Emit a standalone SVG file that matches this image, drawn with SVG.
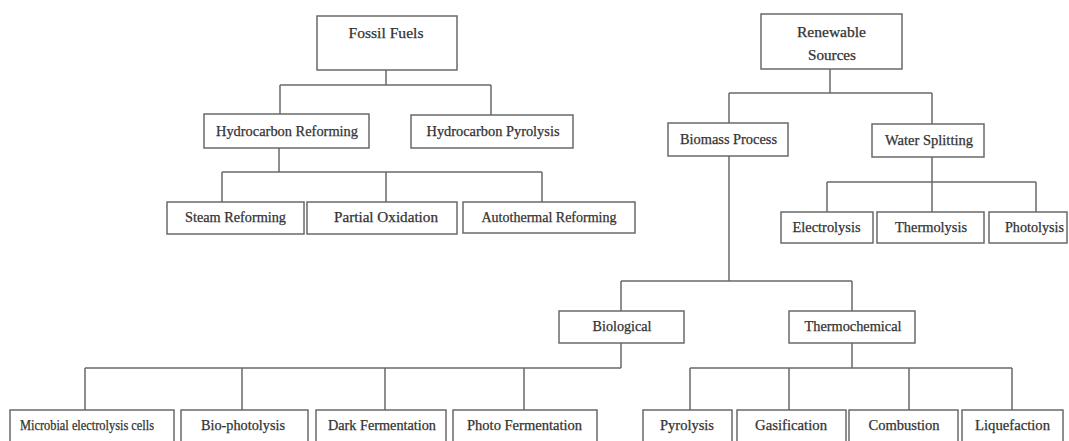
<svg xmlns="http://www.w3.org/2000/svg" width="1069" height="441" viewBox="0 0 1069 441">
<style>
rect{fill:#fff;stroke:#6a6a6a;stroke-width:1.5}
text{font-family:"Liberation Serif","Times New Roman",serif;font-size:14px;fill:#333;stroke:#333;stroke-width:0.25;text-anchor:middle}
.c path{fill:none;stroke:#6a6a6a;stroke-width:1.5}
</style>
<rect x="0" y="0" width="1069" height="441" style="stroke:none"/>
<g class="c" id="connectors">
<path d="M386 70V85M280 85H491M280 85V114M491 85V115"/>
<path d="M279 148V172M222 172H542M222 172V202M386 172V202M542 172V202"/>
<path d="M830 69V93M729 93H932M729 93V123M932 93V124"/>
<path d="M932 157V182M827 182H1036M827 182V212M932 182V212M1036 182V212"/>
<path d="M729 156V281M621 281H852M621 281V311M852 281V311"/>
<path d="M621 343V368M85 368H621M85 368V410M242 368V410M385 368V410M524 368V410"/>
<path d="M852 343V368M690 368H1012M690 368V410M789 368V410M909 368V410M1012 368V410"/>
</g>
<g id="fossil"><rect x="317" y="16" width="140" height="54"/><text x="386" y="38" textLength="75" lengthAdjust="spacingAndGlyphs" style="font-size:15px">Fossil Fuels</text></g>
<g id="renewable"><rect x="761" y="14" width="141" height="55"/><text x="831.5" y="37" textLength="69" lengthAdjust="spacingAndGlyphs">Renewable</text><text x="832" y="60" textLength="48" lengthAdjust="spacingAndGlyphs">Sources</text></g>
<g id="hreform"><rect x="204" y="114" width="165" height="34"/><text x="287" y="136" textLength="142" lengthAdjust="spacingAndGlyphs">Hydrocarbon Reforming</text></g>
<g id="hpyro"><rect x="411" y="115" width="162" height="33"/><text x="493" y="136" textLength="133" lengthAdjust="spacingAndGlyphs">Hydrocarbon Pyrolysis</text></g>
<g id="steam"><rect x="167" y="202" width="137" height="32"/><text x="235.5" y="222" textLength="101" lengthAdjust="spacingAndGlyphs">Steam Reforming</text></g>
<g id="partial"><rect x="307" y="202" width="150" height="32"/><text x="386" y="222" textLength="104" lengthAdjust="spacingAndGlyphs">Partial Oxidation</text></g>
<g id="autothermal"><rect x="463" y="202" width="172" height="31"/><text x="549" y="222" textLength="135" lengthAdjust="spacingAndGlyphs">Autothermal Reforming</text></g>
<g id="biomass"><rect x="668" y="123" width="120" height="33"/><text x="728.5" y="144" textLength="97" lengthAdjust="spacingAndGlyphs">Biomass Process</text></g>
<g id="water"><rect x="872" y="124" width="112" height="33"/><text x="929" y="145" textLength="88" lengthAdjust="spacingAndGlyphs">Water Splitting</text></g>
<g id="electrolysis"><rect x="781" y="212" width="92" height="31"/><text x="826.5" y="232" textLength="68" lengthAdjust="spacingAndGlyphs">Electrolysis</text></g>
<g id="thermolysis"><rect x="877" y="212" width="107" height="31"/><text x="931" y="232" textLength="72" lengthAdjust="spacingAndGlyphs">Thermolysis</text></g>
<g id="photolysis"><rect x="989" y="212" width="78" height="31"/><text x="1034.5" y="232" textLength="59" lengthAdjust="spacingAndGlyphs">Photolysis</text></g>
<g id="biological"><rect x="559" y="311" width="125" height="32"/><text x="622" y="331" textLength="59" lengthAdjust="spacingAndGlyphs">Biological</text></g>
<g id="thermochemical"><rect x="789" y="311" width="126" height="32"/><text x="853" y="331" textLength="97" lengthAdjust="spacingAndGlyphs">Thermochemical</text></g>
<g id="microbial"><rect x="10" y="410" width="164" height="34"/><text x="87" y="430" textLength="134" lengthAdjust="spacingAndGlyphs">Microbial electrolysis cells</text></g>
<g id="biophotolysis"><rect x="181" y="410" width="127" height="34"/><text x="243" y="430" textLength="84" lengthAdjust="spacingAndGlyphs">Bio-photolysis</text></g>
<g id="dark"><rect x="316" y="410" width="130" height="34"/><text x="382" y="430" textLength="108" lengthAdjust="spacingAndGlyphs">Dark Fermentation</text></g>
<g id="photoferm"><rect x="453" y="410" width="144" height="34"/><text x="524.5" y="430" textLength="115" lengthAdjust="spacingAndGlyphs">Photo Fermentation</text></g>
<g id="pyrolysis"><rect x="643" y="410" width="89" height="34"/><text x="687" y="430" textLength="54" lengthAdjust="spacingAndGlyphs">Pyrolysis</text></g>
<g id="gasification"><rect x="737" y="410" width="109" height="34"/><text x="791" y="430" textLength="72" lengthAdjust="spacingAndGlyphs">Gasification</text></g>
<g id="combustion"><rect x="849" y="410" width="109" height="34"/><text x="904" y="430" textLength="71" lengthAdjust="spacingAndGlyphs">Combustion</text></g>
<g id="liquefaction"><rect x="962" y="410" width="101" height="34"/><text x="1012.5" y="430" textLength="75" lengthAdjust="spacingAndGlyphs">Liquefaction</text></g>
</svg>
